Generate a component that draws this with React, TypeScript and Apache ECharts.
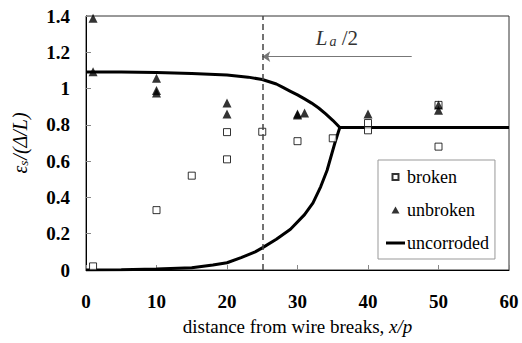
import React, { useEffect, useRef } from "react";
import * as echarts from "echarts";

const xTicks = [0, 10, 20, 30, 40, 50, 60];
const yTicks = [0, 0.2, 0.4, 0.6, 0.8, 1, 1.2, 1.4];

const brokenData: [number, number][] = [
  [1, 0.02], [10, 0.33], [15, 0.52], [20, 0.76], [20, 0.61], [25, 0.762],
  [30, 0.71], [35, 0.726], [40, 0.81], [40, 0.77], [50, 0.68], [50, 0.91],
];

const unbrokenData: [number, number][] = [
  [1, 1.387], [1, 1.093], [10, 1.057], [10, 0.99], [10, 0.975],
  [20, 0.92], [20, 0.86], [30, 0.86], [30, 0.855], [31, 0.866],
  [40, 0.86], [50, 0.91], [50, 0.88],
];

const upperCurve: [number, number][] = [
  [0, 1.092], [5, 1.091], [10, 1.088], [15, 1.083], [20, 1.075], [23, 1.063],
  [25, 1.05], [27, 1.025], [28, 1.005], [29, 0.985], [30, 0.965], [31, 0.943],
  [32, 0.92], [33, 0.893], [34, 0.86], [35, 0.825], [36, 0.785], [60, 0.785],
];

const lowerCurve: [number, number][] = [
  [0, 0.0], [5, 0.002], [10, 0.005], [15, 0.013], [18, 0.027], [20, 0.04],
  [22, 0.068], [24, 0.1], [25, 0.122], [27, 0.17], [29, 0.225], [31, 0.305],
  [32.2, 0.37], [33.3, 0.46], [34.2, 0.55], [35.3, 0.7], [36, 0.785],
];

const vLineX = 25;
const arrowFrom: [number, number] = [46.2, 1.176];
const arrowTo: [number, number] = [25, 1.176];

const FONT = "Liberation Serif, DejaVu Serif, Times New Roman, serif";

export default function App() {
  const ref = useRef<HTMLDivElement>(null);
  useEffect(() => {
    if (!ref.current) return;
    const chart = echarts.init(ref.current, undefined, { renderer: "svg" });
    const lab = { fontFamily: FONT, fontSize: 19, fontWeight: "bold" as const, color: "#000" };
    chart.setOption({
      animation: false,
      backgroundColor: "#fff",
      textStyle: { fontFamily: FONT, color: "#000" },
      grid: {
        left: 86, top: 16, right: 13, bottom: 73,
        show: true, borderColor: "#333", borderWidth: 1, backgroundColor: "transparent",
      },
      legend: {
        left: 378, top: 160,
        orient: "vertical",
        data: [
          { name: "broken", icon: "path://M0,0M19,7M6.5,0.5H12.5V6.5H6.5Z" },
          { name: "unbroken", icon: "path://M0,0M19,7M9.5,0L13.5,7H5.5Z" },
          { name: "uncorroded", icon: "path://M0,0M19,7M0,2H19V5H0Z" },
        ],
        itemWidth: 19, itemHeight: 7, itemGap: 15,
        padding: [8, 6, 7, 7],
        borderColor: "#999", borderWidth: 1,
        backgroundColor: "#fff",
        textStyle: { fontFamily: FONT, fontSize: 18, color: "#000", padding: [0, 0, 0, -3] },
      },
      xAxis: {
        type: "value", min: xTicks[0], max: xTicks[xTicks.length - 1], interval: 10,
        axisLine: { show: true, onZero: false, lineStyle: { color: "#000", width: 1 } },
        axisTick: { show: true, inside: true, length: 5, lineStyle: { color: "#888" } },
        splitLine: { show: false },
        axisLabel: { margin: 22, ...lab },
        name: "distance from wire breaks, {i|x/p}",
        nameLocation: "middle", nameGap: 47,
        nameTextStyle: {
          fontFamily: FONT, fontSize: 19, color: "#000",
          rich: { i: { fontFamily: FONT, fontSize: 19, fontStyle: "italic", color: "#000" } },
        },
      },
      yAxis: {
        type: "value", min: yTicks[0], max: yTicks[yTicks.length - 1], interval: 0.2,
        axisLine: { show: true, onZero: false, lineStyle: { color: "#000", width: 1 } },
        axisTick: { show: true, inside: true, length: 5, lineStyle: { color: "#888" } },
        splitLine: { show: false },
        axisLabel: { margin: 16, ...lab },
        name: "{i|ε}{s|s}{i|/(Δ/L)}",
        nameLocation: "middle", nameRotate: 90, nameGap: 56,
        nameTextStyle: {
          fontFamily: FONT, fontSize: 19, color: "#000",
          rich: {
            i: { fontFamily: FONT, fontSize: 20, fontStyle: "italic", color: "#000", lineHeight: 24, verticalAlign: "bottom" },
            s: { fontFamily: FONT, fontSize: 13, fontStyle: "italic", color: "#000", lineHeight: 24, verticalAlign: "bottom", padding: [6, 1, 0, 0] },
          },
        },
      },
      series: [
        {
          name: "uncorroded", type: "line", data: upperCurve,
          symbol: "none", smooth: false, lineStyle: { color: "#000", width: 3 },
          itemStyle: { color: "#000" }, z: 3,
          markLine: {
            silent: true, animation: false,
            data: [
              [
                { coord: arrowFrom, symbol: "none" },
                { coord: arrowTo, symbol: "arrow", symbolSize: 8 },
              ],
            ],
            lineStyle: { color: "#777", width: 1, type: "solid" },
            label: {
              show: true, position: "middle", distance: 8,
              formatter: "{L|L}{a|a}{n| /2}",
              rich: {
                L: { fontFamily: FONT, fontSize: 21, fontStyle: "italic", color: "#333", lineHeight: 24, verticalAlign: "bottom" },
                a: { fontFamily: FONT, fontSize: 14, fontStyle: "italic", color: "#333", lineHeight: 24, verticalAlign: "bottom", padding: [7, 0, 0, 2] },
                n: { fontFamily: FONT, fontSize: 21, color: "#333", lineHeight: 24, verticalAlign: "bottom" },
              },
            },
          },
        },
        {
          name: "uncorroded", type: "line", data: lowerCurve,
          symbol: "none", smooth: false, lineStyle: { color: "#000", width: 3 },
          itemStyle: { color: "#000" }, z: 3,
          markLine: {
            silent: true, animation: false, symbol: ["none", "none"],
            data: [{ xAxis: vLineX }],
            lineStyle: { color: "#444", width: 1.5, type: [6, 4] },
            label: { show: false },
          },
        },
        {
          name: "broken", type: "scatter", data: brokenData,
          symbol: "rect", symbolSize: 7,
          itemStyle: { color: "#fff", borderColor: "#000", borderWidth: 1 }, z: 4,
        },
        {
          name: "unbroken", type: "scatter", data: unbrokenData,
          symbol: "triangle", symbolSize: 9,
          itemStyle: { color: "#000" }, z: 5,
        },
      ],
    });
    return () => chart.dispose();
  }, []);
  return <div ref={ref} style={{ width: 522, height: 343, position: "absolute", left: 0, top: 0 }} />;
}
